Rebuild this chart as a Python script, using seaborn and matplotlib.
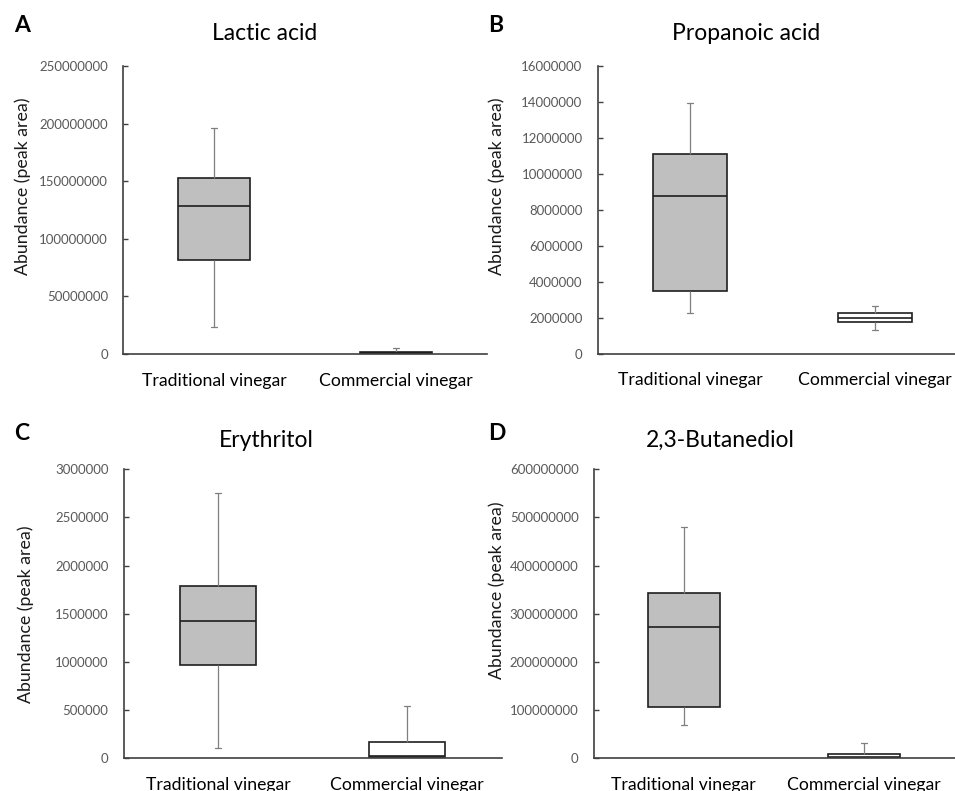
import numpy as np
import pandas as pd
import matplotlib
matplotlib.use("Agg")
import matplotlib.pyplot as plt
import seaborn as sns
from matplotlib.ticker import MultipleLocator, FuncFormatter

groups = ["Traditional vinegar", "Commercial vinegar"]

# five-number summary per box: min, Q1, median, Q3, max
lactic_trad = [23.5e6, 82e6, 129e6, 153e6, 196.7e6]
lactic_comm = [0.2e6, 0.6e6, 1.0e6, 2.0e6, 5.5e6]
propanoic_trad = [2.28e6, 3.5e6, 8.77e6, 11.09e6, 13.93e6]
propanoic_comm = [1.33e6, 1.75e6, 2.0e6, 2.25e6, 2.63e6]
erythritol_trad = [0.107e6, 0.967e6, 1.42e6, 1.79e6, 2.75e6]
erythritol_comm = [0.0, 0.007e6, 0.024e6, 0.163e6, 0.54e6]
butanediol_trad = [68e6, 105e6, 272e6, 343e6, 480e6]
butanediol_comm = [0.5e6, 1.0e6, 2.0e6, 8.3e6, 32e6]

titles = ["Lactic acid", "Propanoic acid", "Erythritol", "2,3-Butanediol"]
letters = ["A", "B", "C", "D"]
y_max = [250000000, 16000000, 3000000, 600000000]
y_step = [50000000, 2000000, 500000, 100000000]

panels = [
    (lactic_trad, lactic_comm),
    (propanoic_trad, propanoic_comm),
    (erythritol_trad, erythritol_comm),
    (butanediol_trad, butanediol_comm),
]

sns.set_theme(style="white")
plt.rcParams["font.family"] = ["Lato", "DejaVu Sans"]

W, H = 955, 791
fig = plt.figure(figsize=(W / 100, H / 100), dpi=100)

# layout in pixels: left, top, width, bottom
axes_px = [(123, 66.3, 364, 354), (597.5, 66, 370, 353.7),
           (123.5, 469.3, 378, 758), (593.5, 469.3, 361, 758)]
title_px = [(265, 33.5), (746.5, 33.5), (266, 440), (720, 440)]
letter_px = [(14, 25), (488, 25), (14, 433), (488, 433)]
ylab_px = [(23, 186), (496.5, 186), (25.5, 614), (496.5, 590)]

fills = {"Traditional vinegar": "#bfbfbf", "Commercial vinegar": "#ffffff"}

for i, (trad, comm) in enumerate(panels):
    l, t, w, b = axes_px[i]
    ax = fig.add_axes([l / W, 1 - b / H, w / W, (b - t) / H])
    df = pd.DataFrame({"vinegar": np.repeat(groups, 5),
                       "abundance": list(trad) + list(comm)})
    sns.boxplot(data=df, x="vinegar", y="abundance", hue="vinegar",
                palette=fills, saturation=1, width=0.4, whis=(0, 100),
                linecolor="#1f1f1f", linewidth=1.2, legend=False, ax=ax,
                whiskerprops=dict(color="#7f7f7f", linewidth=0.9),
                capprops=dict(color="#7f7f7f", linewidth=0.9),
                capwidths=0.035)
    ax.set_xlim(-0.5, 1.5)
    ax.set_ylim(0, y_max[i])
    ax.yaxis.set_major_locator(MultipleLocator(y_step[i]))
    ax.yaxis.set_major_formatter(FuncFormatter(lambda v, p: f"{v:.0f}"))
    ax.set_xlabel("")
    ax.set_ylabel("")
    ax.spines[["top", "right"]].set_visible(False)
    for s in ["left", "bottom"]:
        ax.spines[s].set_color("#404040")
        ax.spines[s].set_linewidth(1.2)
    ax.tick_params(axis="y", left=True, direction="in", length=3.3, width=1,
                   color="#404040", pad=10.8, labelsize=9.5, labelcolor="#595959")
    ax.tick_params(axis="x", bottom=False, length=0, pad=13.5, labelsize=12.7,
                   labelcolor="black")

    fig.text(title_px[i][0] / W, 1 - title_px[i][1] / H, titles[i],
             ha="center", va="center", fontsize=16.5, color="black")
    fig.text(letter_px[i][0] / W, 1 - letter_px[i][1] / H, letters[i],
             ha="left", va="center", fontsize=16.5, fontweight="bold", color="black")
    fig.text(ylab_px[i][0] / W, 1 - ylab_px[i][1] / H, "Abundance (peak area)",
             ha="center", va="center", rotation=90, fontsize=12.8, color="#1a1a1a")

fig.savefig("out.png", dpi=100)
